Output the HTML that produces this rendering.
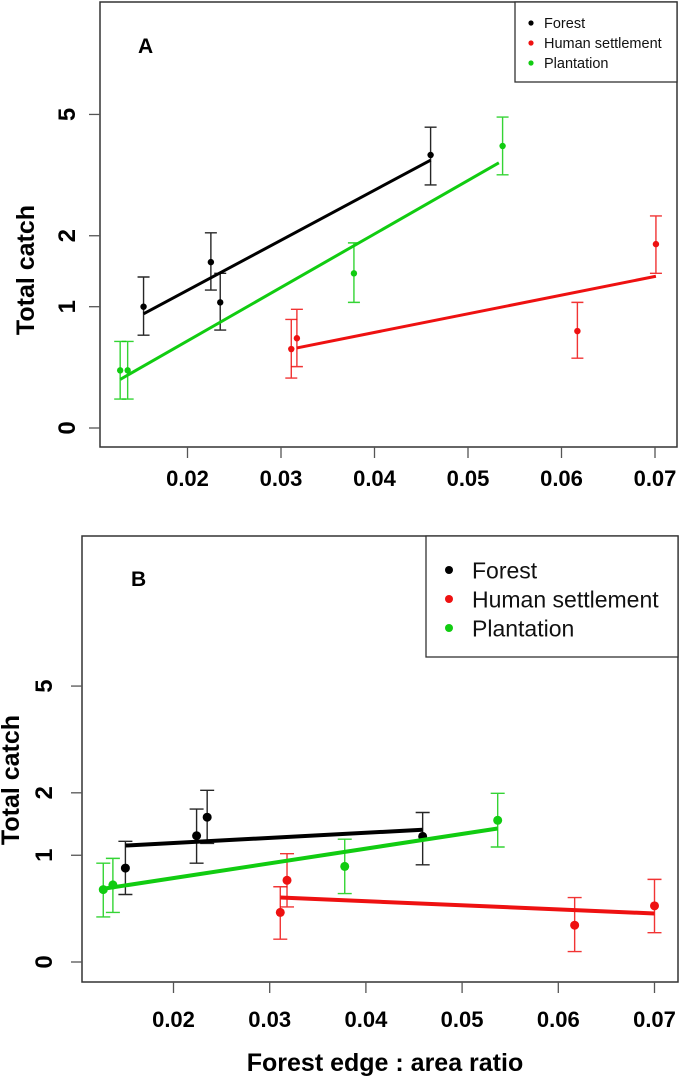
<!DOCTYPE html>
<html><head><meta charset="utf-8"><style>
body{margin:0;background:#fff;}
svg{display:block;font-family:"Liberation Sans",Arial,sans-serif;}
</style></head><body>
<svg id="fig" width="685" height="1079" viewBox="0 0 685 1079"></svg>
<script>
// ----- data (x = edge:area ratio, y = total catch) -----
const groups = ["Forest","Human settlement","Plantation"];
const colors = ["#000000","#ee1111","#11cc11"];
// Panel A
const aForestX = [0.0153,0.0225,0.0235,0.0460];
const aForestY = [1.00,1.58,1.05,3.76];
const aForestLo = [0.70,1.20,0.75,3.01];
const aForestHi = [1.37,2.05,1.42,4.58];
const aForestFit = [[0.0153,0.92],[0.0460,3.62]];
const aHumanX = [0.0311,0.0317,0.0617,0.0701];
const aHumanY = [0.57,0.67,0.74,1.86];
const aHumanLo = [0.33,0.42,0.49,1.42];
const aHumanHi = [0.86,0.97,1.05,2.36];
const aHumanFit = [[0.0317,0.58],[0.0701,1.38]];
const aPlantX = [0.0128,0.0136,0.0378,0.0537];
const aPlantY = [0.39,0.39,1.42,4.01];
const aPlantLo = [0.18,0.18,1.05,3.25];
const aPlantHi = [0.64,0.64,1.88,4.91];
const aPlantFit = [[0.0128,0.32],[0.0533,3.55]];
// Panel B
const bForestX = [0.0150,0.0224,0.0235,0.0459];
const bForestY = [0.84,1.27,1.56,1.26];
const bForestLo = [0.55,0.90,1.16,0.88];
const bForestHi = [1.19,1.70,2.05,1.64];
const bForestFit = [[0.0150,1.13],[0.0459,1.36]];
const bHumanX = [0.0311,0.0318,0.0617,0.0700];
const bHumanY = [0.38,0.70,0.27,0.44];
const bHumanLo = [0.16,0.43,0.07,0.21];
const bHumanHi = [0.63,1.02,0.52,0.71];
const bHumanFit = [[0.0311,0.52],[0.0700,0.37]];
const bPlantX = [0.0127,0.0137,0.0378,0.0537];
const bPlantY = [0.60,0.65,0.86,1.51];
const bPlantLo = [0.34,0.38,0.56,1.11];
const bPlantHi = [0.90,0.96,1.22,1.99];
const bPlantFit = [[0.0128,0.61],[0.0537,1.38]];
const xTicks = [0.02,0.03,0.04,0.05,0.06,0.07];
const xTickLabels = ["0.02","0.03","0.04","0.05","0.06","0.07"];
const yTicks = [0,1,2,5];
const yTickLabels = ["0","1","2","5"];

const NS="http://www.w3.org/2000/svg";
const svg=document.getElementById('fig');
function mk(tag,attrs,parent){const e=document.createElementNS(NS,tag);for(const k in attrs)e.setAttribute(k,attrs[k]);(parent||svg).appendChild(e);return e;}

function panel(cfg){
  const g=mk('g',{});
  
  
  const X=v=>cfg.x02+(v-0.02)/0.01*cfg.xStep;
  const Y=v=>cfg.y0-Math.log(v+1)*cfg.yUnit;
  const box=mk('rect',{x:cfg.box[0],y:cfg.box[1],width:cfg.box[2]-cfg.box[0],height:cfg.box[3]-cfg.box[1],fill:'none',stroke:'#333','stroke-width':1.5},g);
  
  
  xTicks.forEach((t,i)=>{
    const tk=mk('line',{x1:X(t),x2:X(t),y1:cfg.box[3],y2:cfg.box[3]+11,stroke:'#555','stroke-width':1.3},g);
    
    
    const tl=mk('text',{x:X(t),y:cfg.xLabY,'text-anchor':'middle','font-size':cfg.tickFs,'font-weight':'bold'},g);
    tl.textContent=xTickLabels[i];
    
    
  });
  yTicks.forEach((t,i)=>{
    const tk=mk('line',{x1:cfg.box[0]-11,x2:cfg.box[0],y1:Y(t),y2:Y(t),stroke:'#555','stroke-width':1.3},g);
    
    
    const tl=mk('text',{x:0,y:0,'text-anchor':'middle','font-size':cfg.yTickFs,'font-weight':'bold',transform:`translate(${cfg.yLabX},${Y(t)}) rotate(-90)`},g);
    tl.textContent=yTickLabels[i];
    
    
  });
  const yt=mk('text',{x:0,y:0,'text-anchor':'middle','font-size':25,'font-weight':'bold',transform:`translate(${cfg.yTitleX},${cfg.yTitleY}) rotate(-90)`},g);
  yt.textContent='Total catch';
  
  
  const pl=mk('text',{x:cfg.lab[0],y:cfg.lab[1],'font-size':cfg.labFs,'font-weight':'bold'},g);
  pl.textContent=cfg.label;
  
  
  cfg.series.forEach((s,si)=>{
    const c=colors[si];
    const sg=mk('g',{},g);
    
    
    const f=s.fit;
    const ln=mk('line',{x1:X(f[0][0]),y1:Y(f[0][1]),x2:X(f[1][0]),y2:Y(f[1][1]),stroke:c,'stroke-width':cfg.lw},sg);
    
    
    s.x.forEach((xv,i)=>{
      const px=X(xv),cw=cfg.cap;
      const eb=mk('path',{d:`M${px},${Y(s.lo[i])}V${Y(s.hi[i])}M${px-cw},${Y(s.lo[i])}H${px+cw}M${px-cw},${Y(s.hi[i])}H${px+cw}`,stroke:c,'stroke-width':1.4,fill:'none',opacity:0.85},sg);
      
      
      const pt=mk('circle',{cx:px,cy:Y(s.y[i]),r:cfg.r,fill:c},sg);
      
      
    });
  });
  const L=cfg.legend;
  const lg=mk('g',{},g);
  
  
  mk('rect',{x:L.x,y:L.y,width:L.w,height:L.h,fill:'#fff',stroke:'#333','stroke-width':1.3},lg);
  groups.forEach((n,i)=>{
    const eg=mk('g',{},lg);
    
    
    mk('circle',{cx:L.dx,cy:L.ys[i],r:L.r,fill:colors[i]},eg);
    const t=mk('text',{x:L.tx,y:L.ys[i]+L.fs*0.36,'font-size':L.fs,fill:'#111'},eg);
    t.textContent=n;
  });
}

panel({name:'panel-a',label:'A',lab:[138,53],labFs:21,box:[100,2,677,447],x02:187.5,xStep:93.5,y0:428,yUnit:175,
  xLabY:486,yLabX:75,tickFs:22,yTickFs:24,yTitleX:34,yTitleY:270,lw:3,r:3.2,cap:6,
  series:[
    {x:aForestX,y:aForestY,lo:aForestLo,hi:aForestHi,fit:aForestFit},
    {x:aHumanX,y:aHumanY,lo:aHumanLo,hi:aHumanHi,fit:aHumanFit},
    {x:aPlantX,y:aPlantY,lo:aPlantLo,hi:aPlantHi,fit:aPlantFit}],
  legend:{x:515,y:2,w:162,h:80,dx:531,tx:544,ys:[23,43,63],r:2.6,fs:14.5}});

panel({name:'panel-b',label:'B',lab:[131,586],labFs:21,box:[82,536,678,982],x02:173.5,xStep:96.2,y0:962,yUnit:154,
  xLabY:1027,yLabX:52,tickFs:22,yTickFs:24,yTitleX:19,yTitleY:780,lw:4,r:4.5,cap:7,
  series:[
    {x:bForestX,y:bForestY,lo:bForestLo,hi:bForestHi,fit:bForestFit},
    {x:bHumanX,y:bHumanY,lo:bHumanLo,hi:bHumanHi,fit:bHumanFit},
    {x:bPlantX,y:bPlantY,lo:bPlantLo,hi:bPlantHi,fit:bPlantFit}],
  legend:{x:426,y:536,w:252,h:121,dx:449,tx:472,ys:[570,599,628],r:4,fs:23}});

const xt=mk('text',{x:385,y:1071,'text-anchor':'middle','font-size':25,'font-weight':'bold'});
xt.textContent='Forest edge : area ratio';


</script>
</body></html>
